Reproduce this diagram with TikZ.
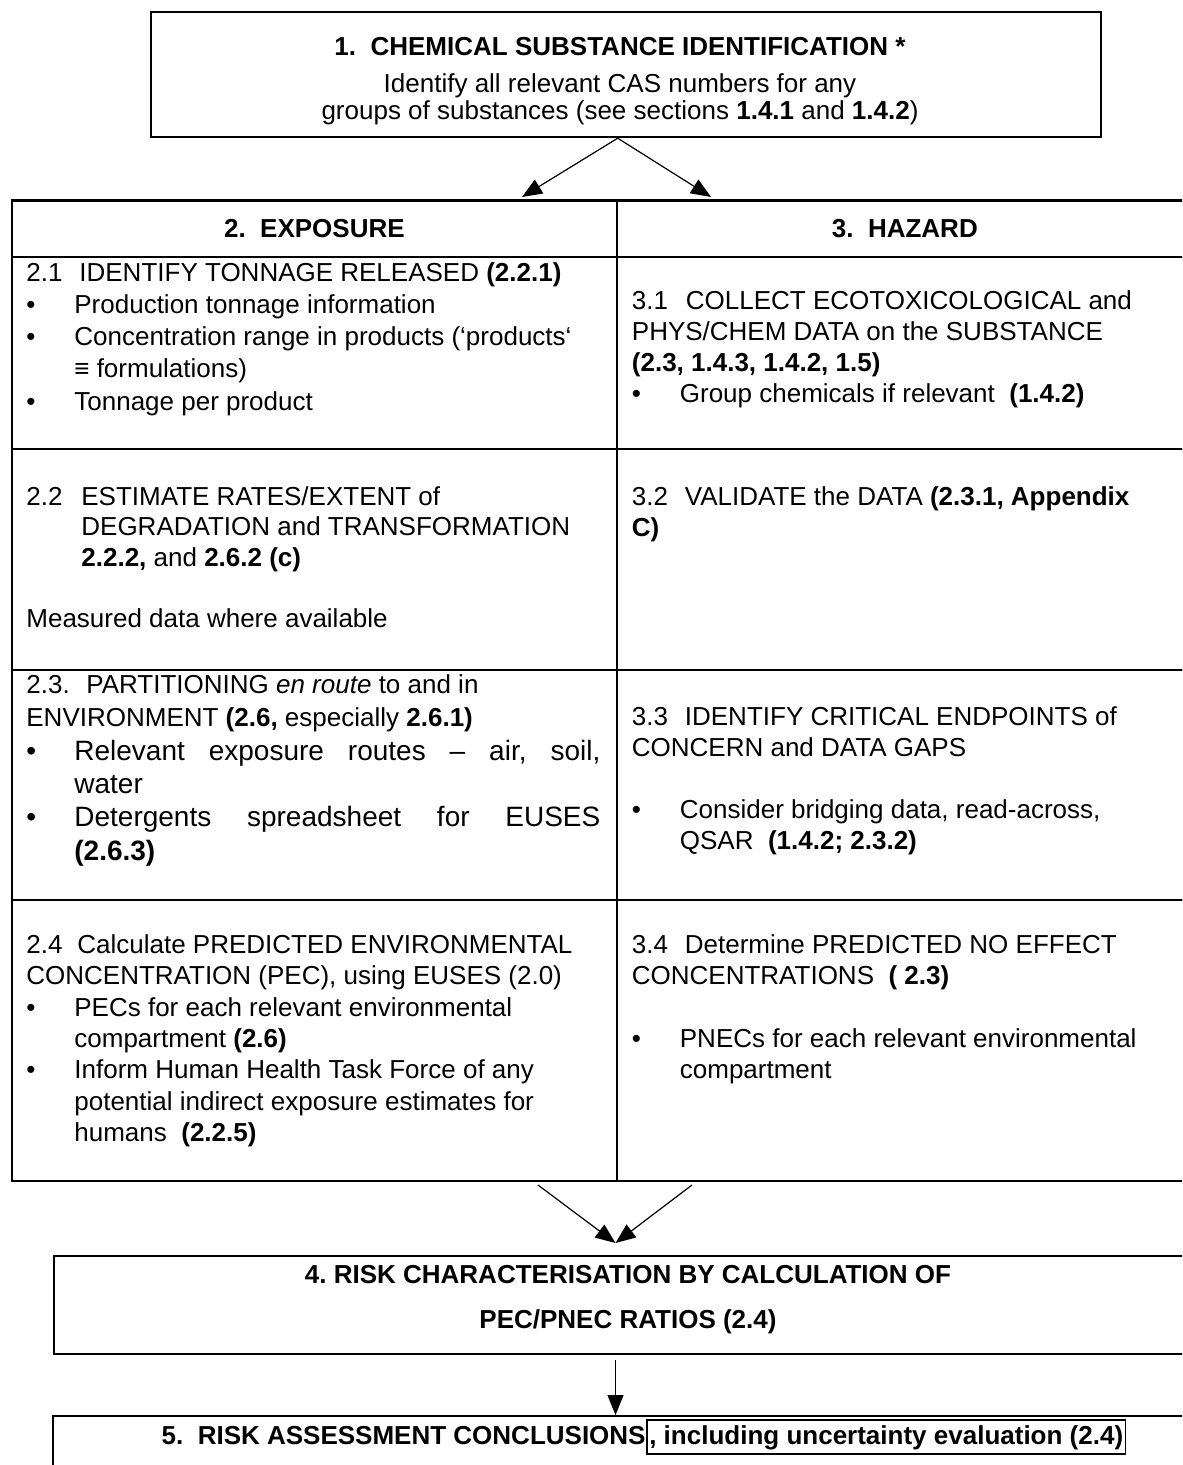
\documentclass[tikz,border=0pt]{standalone}
\usepackage{fontspec}
\setmainfont{Liberation Sans}
\usetikzlibrary{arrows.meta}
\frenchspacing
\newcommand\bul{\makebox[24pt][l]{\textbullet}}
\newcommand\ind{\hspace*{24pt}}
\newcommand\lab[2]{\makebox[#1][l]{#2}}
\newcommand\Lx[1]{\hbox{#1}}
\newcommand\Cx[2]{\hbox to #1{\hfil#2\hfil}}
\newcommand\cellv[2]{\vtop{\baselineskip=#1\lineskiplimit=-50pt\lineskip=0pt #2}}
\newcommand\bigf{\fontsize{14}{16}\selectfont}
\begin{document}
\begin{tikzpicture}[x=0.5pt,y=-0.5pt,
  boxn/.style={draw, line width=1.1pt, inner sep=0pt, anchor=north west},
  hdr/.style={boxn, font=\fontsize{13}{16}\selectfont\bfseries},
  txt/.style={inner sep=0pt, font=\fontsize{13}{16}\selectfont},
  arr/.style={line width=0.6pt, -{Triangle[length=10pt,width=8pt]}}]
\useasboundingbox (0,0) rectangle (1182,1465);
\clip (0,0) rectangle (1182,1465);

% box 1
\node[boxn, minimum width=475pt, minimum height=62.5pt] (box1) at (150,11) {};
\node[txt, anchor=base] (t1) at (620,56) {\vtop{\baselineskip=13.5pt\lineskiplimit=-50pt\lineskip=0pt
  \Cx{475pt}{\textbf{1.\ \ CHEMICAL SUBSTANCE IDENTIFICATION *}}
  \kern5pt
  \Cx{475pt}{Identify all relevant CAS numbers for any}
  \Cx{475pt}{groups of substances (see sections \textbf{1.4.1} and \textbf{1.4.2})}}};

% table header
\node[hdr, minimum width=302.25pt, minimum height=28.1pt] (hdrE) at (11,199.5) {2.\ \ EXPOSURE};
\node[hdr, minimum width=288.25pt, minimum height=28.1pt] (hdrH) at (615.5,199.5) {3.\ \ HAZARD};
% table cells
\node[boxn, minimum width=302.25pt, minimum height=96.15pt] (c21) at (11,255.7) {};
\node[boxn, minimum width=288.25pt, minimum height=96.15pt] (c31) at (615.5,255.7) {};
\node[boxn, minimum width=302.25pt, minimum height=110.5pt] (c22) at (11,448) {};
\node[boxn, minimum width=288.25pt, minimum height=110.5pt] (c32) at (615.5,448) {};
\node[boxn, minimum width=302.25pt, minimum height=115pt] (c23) at (11,669) {};
\node[boxn, minimum width=288.25pt, minimum height=115pt] (c33) at (615.5,669) {};
\node[boxn, minimum width=302.25pt, minimum height=140.5pt] (c24) at (11,899) {};
\node[boxn, minimum width=288.25pt, minimum height=140.5pt] (c34) at (615.5,899) {};

% cell texts
\node[txt, anchor=base west] (t21) at (26,281.7) {\cellv{16.05pt}{%
  \Lx{\lab{26.5pt}{2.1}IDENTIFY TONNAGE RELEASED \textbf{(2.2.1)}}
  \Lx{\bul Production tonnage information}
  \Lx{\bul Concentration range in products (‘products‘}
  \Lx{\ind ≡ formulations)}
  \Lx{\bul Tonnage per product}}};
\node[txt, anchor=base west] (t22) at (26,505) {\cellv{15.25pt}{%
  \Lx{\lab{27.5pt}{2.2}ESTIMATE RATES/EXTENT of}
  \Lx{\hspace*{27.5pt}DEGRADATION and TRANSFORMATION}
  \Lx{\hspace*{27.5pt}\textbf{2.2.2,} and \textbf{2.6.2 (c)}}
  \Lx{}
  \Lx{Measured data where available}}};
\node[txt, anchor=base west] (t23) at (26,693.3) {\cellv{16.7pt}{%
  \Lx{\lab{30pt}{2.3.}PARTITIONING \textit{en route} to and in}
  \Lx{ENVIRONMENT \textbf{(2.6,} especially \textbf{2.6.1)}}
  \Lx{\bigf\bul\hbox to 263pt{\bigf Relevant exposure routes – air, soil,}}
  \Lx{\bigf\ind water}
  \Lx{\bigf\bul\hbox to 263pt{\bigf Detergents spreadsheet for EUSES}}
  \Lx{\bigf\ind\textbf{(2.6.3)}}}};
\node[txt, anchor=base west] (t24) at (26,953.3) {\cellv{15.7pt}{%
  \Lx{\lab{25.5pt}{2.4}Calculate PREDICTED ENVIRONMENTAL}
  \Lx{CONCENTRATION (PEC), using EUSES (2.0)}
  \Lx{\bul PECs for each relevant environmental}
  \Lx{\ind compartment \textbf{(2.6)}}
  \Lx{\bul Inform Human Health Task Force of any}
  \Lx{\ind potential indirect exposure estimates for}
  \Lx{\ind humans\ \ \textbf{(2.2.5)}}}};
\node[txt, anchor=base west] (t31) at (631.5,310) {\cellv{15.5pt}{%
  \Lx{\lab{27pt}{3.1}COLLECT ECOTOXICOLOGICAL and}
  \Lx{PHYS/CHEM DATA on the SUBSTANCE}
  \Lx{\textbf{(2.3, 1.4.3, 1.4.2, 1.5)}}
  \Lx{\bul Group chemicals if relevant\ \ \textbf{(1.4.2)}}}};
\node[txt, anchor=base west] (t32) at (631.5,505) {\cellv{15.85pt}{%
  \Lx{\lab{26.5pt}{3.2}VALIDATE the DATA \textbf{(2.3.1, Appendix}}
  \Lx{\textbf{C)}}}};
\node[txt, anchor=base west] (t33) at (631.5,725) {\cellv{15.5pt}{%
  \Lx{\lab{26.5pt}{3.3}IDENTIFY CRITICAL ENDPOINTS of}
  \Lx{CONCERN and DATA GAPS}
  \Lx{}
  \Lx{\bul Consider bridging data, read-across,}
  \Lx{\ind QSAR\ \ \textbf{(1.4.2; 2.3.2)}}}};
\node[txt, anchor=base west] (t34) at (631.5,953.3) {\cellv{15.65pt}{%
  \Lx{\lab{26.5pt}{3.4}Determine PREDICTED NO EFFECT}
  \Lx{CONCENTRATIONS\ \ \textbf{( 2.3)}}
  \Lx{}
  \Lx{\bul PNECs for each relevant environmental}
  \Lx{\ind compartment}}};

% box 4 and 5
\node[boxn, minimum width=575pt, minimum height=49pt] (box4) at (53,1255) {};
\node[txt, anchor=base] (t4) at (628,1283) {\vtop{\baselineskip=22.5pt\lineskiplimit=-50pt\lineskip=0pt
  \Cx{560pt}{\textbf{4. RISK CHARACTERISATION BY CALCULATION OF}}
  \Cx{560pt}{\textbf{PEC/PNEC RATIOS (2.4)}}}};
\node[boxn, minimum width=589pt, minimum height=40pt] (box5) at (52,1415) {};
\node[txt, draw, line width=0.9pt, inner xsep=1.2pt, inner ysep=2.4pt, anchor=base west] (t5b) at (646,1444)
  {\textbf{, including uncertainty evaluation (2.4)}};
\node[txt, anchor=base east] (t5a) at (t5b.base west) {\textbf{5.\ \ RISK ASSESSMENT CONCLUSIONS}};

% connectors
\coordinate (aE) at (522,197);
\coordinate (aH) at (711,197);
\draw[arr] (box1.south -| hdrE.east) -- (aE);
\draw[arr] (box1.south -| hdrE.east) -- (aH);
\coordinate (sE) at (538,1185);
\coordinate (sH) at (692,1185);
\coordinate (m4) at (615.5,1243);
\draw[arr] (sE) -- (m4);
\draw[arr] (sH) -- (m4);
\draw[arr, shorten <=2.5pt] (box4.south -| m4) -- (box5.north -| m4);
\end{tikzpicture}
\end{document}
